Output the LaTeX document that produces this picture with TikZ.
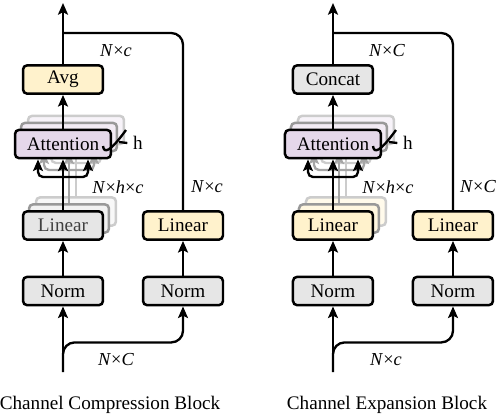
\documentclass[tikz,border=0pt]{standalone}
\usepackage{fontspec}
\setmainfont{Liberation Serif}
\usetikzlibrary{arrows.meta,positioning,calc}

\definecolor{boxgray}{HTML}{E6E6E6}
\definecolor{boxyellow}{HTML}{FFF2CC}
\definecolor{boxpurple}{HTML}{E5D8EA}

\tikzset{
  blk/.style={draw, line width=1.5pt, rounded corners=2.5pt, minimum width=48pt,
    minimum height=17pt, inner sep=0pt, font=\fontsize{11.5}{13}\selectfont},
  ghost/.style={draw=black!#1, line width=1.5pt, rounded corners=2.5pt,
    minimum width=48pt, minimum height=17pt, inner sep=0pt},
  wire/.style={line width=1.4pt},
  arr/.style={wire, -{Stealth[length=7pt,width=6pt,inset=1.5pt]}},
  dim/.style={font=\fontsize{11}{13}\selectfont},
  captxt/.style={font=\fontsize{11.5}{13}\selectfont},
}

\begin{document}
\begin{tikzpicture}[x=0.6pt, y=-0.6pt]
  \useasboundingbox (0,0) rectangle (498,418);

  % ---- channel compression block ----
  % back copies
  \node[ghost=20, fill=boxgray!30] (alin2) at (76,211.5) {};
  \node[ghost=20, fill=boxpurple!30, minimum width=57.6pt] (aatt2) at (76,130) {};
  \node[ghost=40, fill=boxgray!50] (alin1) at (69,218.5) {};
  \node[ghost=40, fill=boxpurple!50, minimum width=57.6pt] (aatt1) at (69,137) {};
  \coordinate (afork2) at (76,163);
  \coordinate (afork1) at (69,170);
  \draw[arr, draw=black!20] (alin2.north) -- (aatt2.south);
  \draw[arr, draw=black!20, rounded corners=3pt] (afork2) -| ([xshift=-15pt]aatt2.south);
  \draw[arr, draw=black!20, rounded corners=3pt] (afork2) -| ([xshift=15pt]aatt2.south);
  \draw[arr, draw=black!35] (alin1.north) -- (aatt1.south);
  \draw[arr, draw=black!35, rounded corners=3pt] (afork1) -| ([xshift=-15pt]aatt1.south);
  \draw[arr, draw=black!35, rounded corners=3pt] (afork1) -| ([xshift=15pt]aatt1.south);

  % front boxes
  \node[blk, fill=boxgray] (anorm) at (63,291) {Norm};
  \node[blk, fill=boxgray, text=black!75] (alin) at (63,225.5) {Linear};
  \node[blk, fill=boxpurple, minimum width=57.6pt] (aatt) at (63,144) {Attention};
  \node[blk, fill=boxyellow] (aavg) at (63,79.5) {Avg};
  \node[blk, fill=boxgray] (anormr) at (183,291) {Norm};
  \node[blk, fill=boxyellow] (alinr) at (183,225.5) {Linear};

  \coordinate (ain) at (63,372);
  \coordinate (afork) at (63,177);
  \coordinate (ajoin) at (63,33);
  \coordinate (aout) at (63,3);

  \draw[arr] (ain) -- (anorm.south);
  \draw[arr, rounded corners=7pt] (ain) |- ($(anormr.south)+(0,36)$) -- (anormr.south);
  \draw[arr] (anorm.north) -- (alin.south);
  \draw[arr] (anormr.north) -- (alinr.south);
  \draw[arr] (alin.north) -- (aatt.south);
  \draw[arr, rounded corners=3pt] (afork) -| ([xshift=-15pt]aatt.south);
  \draw[arr, rounded corners=3pt] (afork) -| ([xshift=15pt]aatt.south);
  \draw[arr] (aatt.north) -- (aavg.south);
  \draw[arr] (aavg.north) -- (aout);
  \draw[wire, rounded corners=7pt] (alinr.north) |- (ajoin);

  % heads
  \node[captxt] (ah) at (138,143) {h};
  \draw[wire] (103,146) .. controls (104,154) and (110,152) .. (126,130);
  \draw[wire] (119,142) -- (ah.west);

  \node[dim] (aouttxt) at (116,51) {\textit{N}×\textit{c}};
  \node[dim] (aheadtxt) at (118,187) {\textit{N}×\textit{h}×\textit{c}};
  \node[dim] (arighttxt) at (207,187) {\textit{N}×\textit{c}};
  \node[dim] (aintxt) at (116,360) {\textit{N}×\textit{C}};
  \node[captxt] (acap) at (110,405) {Channel Compression Block};

  % ---- channel expansion block ----
  \begin{scope}[xshift=162pt]
    % back copies
    \node[ghost=20, fill=boxyellow!40] (blin2) at (76,211.5) {};
    \node[ghost=20, fill=boxpurple!30, minimum width=57.6pt] (batt2) at (76,130) {};
    \node[ghost=40, fill=boxyellow!60] (blin1) at (69,218.5) {};
    \node[ghost=40, fill=boxpurple!50, minimum width=57.6pt] (batt1) at (69,137) {};
    \coordinate (bfork2) at (76,163);
    \coordinate (bfork1) at (69,170);
    \draw[arr, draw=black!20] (blin2.north) -- (batt2.south);
    \draw[arr, draw=black!20, rounded corners=3pt] (bfork2) -| ([xshift=-15pt]batt2.south);
    \draw[arr, draw=black!20, rounded corners=3pt] (bfork2) -| ([xshift=15pt]batt2.south);
    \draw[arr, draw=black!35] (blin1.north) -- (batt1.south);
    \draw[arr, draw=black!35, rounded corners=3pt] (bfork1) -| ([xshift=-15pt]batt1.south);
    \draw[arr, draw=black!35, rounded corners=3pt] (bfork1) -| ([xshift=15pt]batt1.south);

    % front boxes
    \node[blk, fill=boxgray] (bnorm) at (63,291) {Norm};
    \node[blk, fill=boxyellow] (blin) at (63,225.5) {Linear};
    \node[blk, fill=boxpurple, minimum width=57.6pt] (batt) at (63,144) {Attention};
    \node[blk, fill=boxgray] (bcat) at (63,79.5) {Concat};
    \node[blk, fill=boxgray] (bnormr) at (183,291) {Norm};
    \node[blk, fill=boxyellow] (blinr) at (183,225.5) {Linear};

    \coordinate (bin) at (63,372);
    \coordinate (bfork) at (63,177);
    \coordinate (bjoin) at (63,33);
    \coordinate (bout) at (63,3);

    \draw[arr] (bin) -- (bnorm.south);
    \draw[arr, rounded corners=7pt] (bin) |- ($(bnormr.south)+(0,36)$) -- (bnormr.south);
    \draw[arr] (bnorm.north) -- (blin.south);
    \draw[arr] (bnormr.north) -- (blinr.south);
    \draw[arr] (blin.north) -- (batt.south);
    \draw[arr, rounded corners=3pt] (bfork) -| ([xshift=-15pt]batt.south);
    \draw[arr, rounded corners=3pt] (bfork) -| ([xshift=15pt]batt.south);
    \draw[arr] (batt.north) -- (bcat.south);
    \draw[arr] (bcat.north) -- (bout);
    \draw[wire, rounded corners=7pt] (blinr.north) |- (bjoin);

    % heads
    \node[captxt] (bh) at (138,143) {h};
    \draw[wire] (103,146) .. controls (104,154) and (110,152) .. (126,130);
    \draw[wire] (119,142) -- (bh.west);

    \node[dim] (bouttxt) at (117,51) {\textit{N}×\textit{C}};
    \node[dim] (bheadtxt) at (118,187) {\textit{N}×\textit{h}×\textit{c}};
    \node[dim] (brighttxt) at (208,187) {\textit{N}×\textit{C}};
    \node[dim] (bintxt) at (116,360) {\textit{N}×\textit{c}};
    \node[captxt] (bcap) at (117,405) {Channel Expansion Block};
  \end{scope}
\end{tikzpicture}
\end{document}
